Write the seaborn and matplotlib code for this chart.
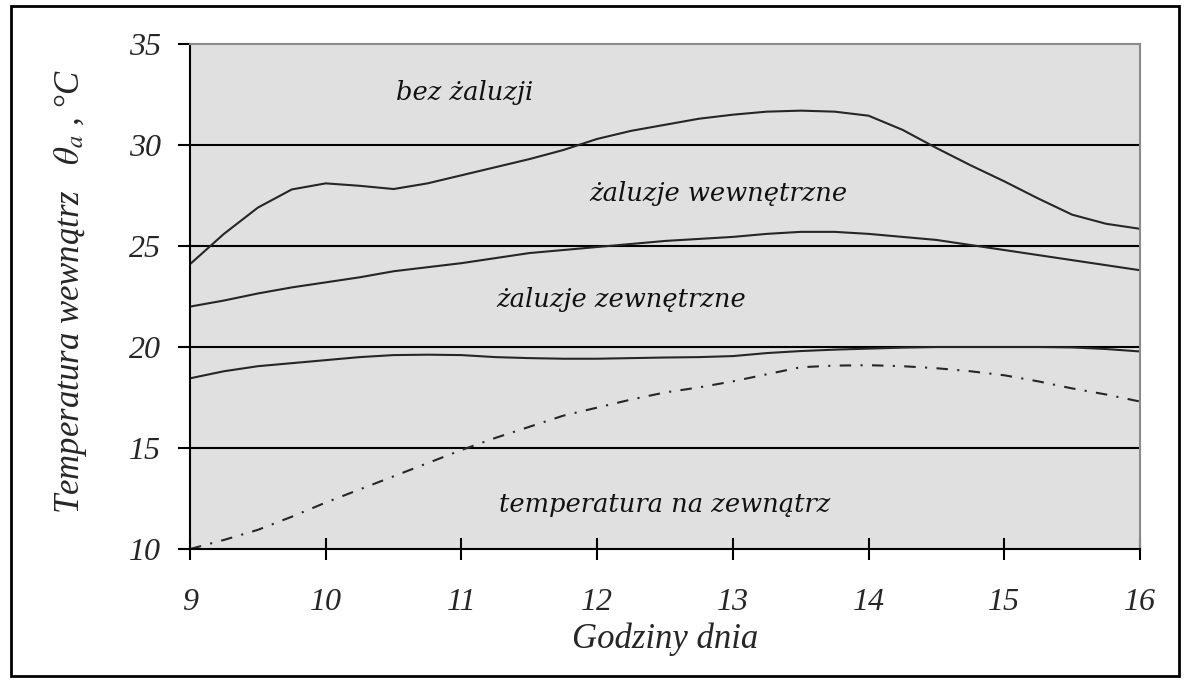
import pandas as pd
import matplotlib.pyplot as plt
import matplotlib.patches as mpatches
import seaborn as sns

# values (quarter-hour readings)
hours = [9, 9.25, 9.5, 9.75, 10, 10.25, 10.5, 10.75, 11, 11.25, 11.5, 11.75, 12, 12.25, 12.5,
         12.75, 13, 13.25, 13.5, 13.75, 14, 14.25, 14.5, 14.75, 15, 15.25, 15.5, 15.75, 16]
bez_zaluzji = [24.1, 25.6, 26.9, 27.8, 28.1, 27.98, 27.82, 28.1, 28.5, 28.9, 29.3, 29.75, 30.3, 30.7, 31.0,
               31.3, 31.5, 31.65, 31.7, 31.65, 31.45, 30.75, 29.85, 29.0, 28.2, 27.35, 26.55, 26.1, 25.85]
zal_wewn = [22.0, 22.3, 22.65, 22.95, 23.2, 23.45, 23.75, 23.95, 24.15, 24.4, 24.65, 24.8, 24.95, 25.1, 25.25,
            25.35, 25.45, 25.6, 25.7, 25.7, 25.6, 25.45, 25.3, 25.05, 24.8, 24.55, 24.3, 24.05, 23.8]
zal_zewn = [18.45, 18.8, 19.05, 19.2, 19.35, 19.5, 19.6, 19.62, 19.6, 19.5, 19.45, 19.42, 19.42, 19.45, 19.48,
            19.5, 19.55, 19.7, 19.8, 19.87, 19.92, 19.97, 20.0, 20.0, 20.0, 20.0, 19.98, 19.9, 19.78]
temp_zewn = [10.0, 10.45, 10.95, 11.6, 12.3, 12.95, 13.6, 14.25, 14.9, 15.5, 16.05, 16.6, 17.0, 17.4, 17.75,
             18.0, 18.3, 18.65, 19.0, 19.08, 19.1, 19.05, 18.95, 18.8, 18.6, 18.3, 17.95, 17.65, 17.3]

series_names = ['bez żaluzji', 'żaluzje wewnętrzne', 'żaluzje zewnętrzne', 'temperatura na zewnątrz']
label_x = [11.02, 12.89, 12.18, 12.5]
label_y = [32.62, 27.62, 22.33, 12.18]

x_ticks = [9, 10, 11, 12, 13, 14, 15, 16]
y_ticks = [10, 15, 20, 25, 30, 35]

df = pd.DataFrame({
    'hour': hours * 4,
    'temp': bez_zaluzji + zal_wewn + zal_zewn + temp_zewn,
    'series': sum([[n] * len(hours) for n in series_names], []),
})

sns.set_theme(style='white')
plt.rcParams['font.family'] = ['Liberation Serif', 'DejaVu Serif']
plt.rcParams['mathtext.fontset'] = 'stix'

fig = plt.figure(figsize=(11.95, 6.85), dpi=100)
ax = fig.add_axes([0.159, 0.1985, 0.795, 0.7373])
ax.set_facecolor('#e0e0e0')

sns.lineplot(
    data=df, x='hour', y='temp', hue='series', style='series',
    hue_order=series_names, style_order=series_names,
    palette=['#262626'] * 4,
    dashes={series_names[0]: '', series_names[1]: '', series_names[2]: '',
            series_names[3]: (5.5, 4.5, 1, 4.5)},
    linewidth=1.5, legend=False, ax=ax,
)

ax.set_xlim(9, 16)
ax.set_ylim(10, 35)
ax.set_xticks(x_ticks)
ax.set_yticks(y_ticks)
ax.set_xticklabels([str(t) for t in x_ticks], fontsize=23, style='italic')
ax.set_yticklabels([str(t) for t in y_ticks], fontsize=23, style='italic')

ax.yaxis.grid(True, color='black', linewidth=1.5)
ax.xaxis.grid(False)
gl = ax.get_ygridlines()
gl[0].set_visible(False)
gl[-1].set_visible(False)
ax.set_axisbelow(True)

ax.tick_params(axis='y', direction='out', length=9, width=1.5, color='black', pad=12, left=True)
ax.tick_params(axis='x', direction='inout', length=16, width=1.5, color='black', pad=20, bottom=True)

for s in ['left', 'bottom']:
    ax.spines[s].set_color('black')
    ax.spines[s].set_linewidth(1.5)
for s in ['top', 'right']:
    ax.spines[s].set_color('#8a8a8a')
    ax.spines[s].set_linewidth(1.5)

ax.set_xlabel('Godziny dnia', fontsize=25, style='italic', labelpad=4)
ax.set_ylabel(r'Temperatura wewnątrz   $\theta_a$ , °C', fontsize=25, style='italic')
ax.yaxis.set_label_coords(-0.106, 0.51)

for name, lx, ly in zip(series_names, label_x, label_y):
    ax.text(lx, ly, name, fontsize=18.5, style='italic', ha='center', va='center',
            family=['DejaVu Serif'], color='#111111')

fig.patches.append(mpatches.Rectangle((11 / 1195, 9 / 685), 1168 / 1195, 670 / 685,
                                      transform=fig.transFigure, fill=False,
                                      edgecolor='black', linewidth=2))

fig.savefig('out.png', dpi=100)
